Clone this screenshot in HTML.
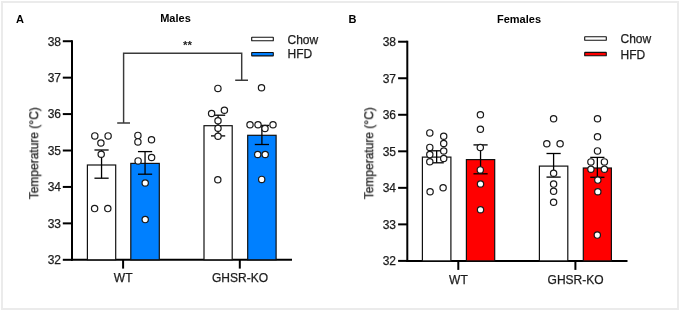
<!DOCTYPE html>
<html><head><meta charset="utf-8"><style>
html,body{margin:0;padding:0;background:#fff;}
body{width:680px;height:311px;overflow:hidden;position:relative;}
.frame{position:absolute;left:1px;top:1px;width:674px;height:305px;border:2px solid #ebebeb;}
svg{position:absolute;left:0;top:0;}
text{will-change:transform;}
.t{font-family:"Liberation Sans",sans-serif;font-size:12px;fill:#1c1c1c;stroke:#1c1c1c;stroke-width:0.25px;}
.b{font-family:"Liberation Sans",sans-serif;font-size:11px;font-weight:bold;fill:#000;}
.s{font-family:"Liberation Sans",sans-serif;font-size:11.5px;font-weight:bold;fill:#222;}
</style></head><body>
<div class="frame"></div>
<svg width="680" height="311" viewBox="0 0 680 311">
<line x1="72" y1="40.22" x2="72" y2="260.80" stroke="#000" stroke-width="2"/>
<line x1="62.8" y1="259.80" x2="72" y2="259.80" stroke="#000" stroke-width="2"/>
<text x="61" y="264.10" text-anchor="end" class="t">32</text>
<line x1="62.8" y1="223.37" x2="72" y2="223.37" stroke="#000" stroke-width="2"/>
<text x="61" y="227.67" text-anchor="end" class="t">33</text>
<line x1="62.8" y1="186.94" x2="72" y2="186.94" stroke="#000" stroke-width="2"/>
<text x="61" y="191.24" text-anchor="end" class="t">34</text>
<line x1="62.8" y1="150.51" x2="72" y2="150.51" stroke="#000" stroke-width="2"/>
<text x="61" y="154.81" text-anchor="end" class="t">35</text>
<line x1="62.8" y1="114.08" x2="72" y2="114.08" stroke="#000" stroke-width="2"/>
<text x="61" y="118.38" text-anchor="end" class="t">36</text>
<line x1="62.8" y1="77.65" x2="72" y2="77.65" stroke="#000" stroke-width="2"/>
<text x="61" y="81.95" text-anchor="end" class="t">37</text>
<line x1="62.8" y1="41.22" x2="72" y2="41.22" stroke="#000" stroke-width="2"/>
<text x="61" y="45.52" text-anchor="end" class="t">38</text>
<line x1="71" y1="259.8" x2="292" y2="259.8" stroke="#000" stroke-width="2"/>
<line x1="123.1" y1="259.8" x2="123.1" y2="268.6" stroke="#000" stroke-width="2"/>
<line x1="239.8" y1="259.8" x2="239.8" y2="268.6" stroke="#000" stroke-width="2"/>
<text x="123.19999999999999" y="282" text-anchor="middle" class="t">WT</text>
<text x="240.0" y="282" text-anchor="middle" class="t">GHSR-KO</text>
<text transform="translate(38.2,153.3) rotate(-90)" text-anchor="middle" class="t">Temperature (°C)</text>
<rect x="87.40" y="165.0" width="28.30" height="94.80" fill="#fff" stroke="#111" stroke-width="1.2"/>
<line x1="101.55" y1="150.0" x2="101.55" y2="178.2" stroke="#000" stroke-width="1.3"/>
<line x1="94.45" y1="150.0" x2="108.65" y2="150.0" stroke="#000" stroke-width="1.3"/>
<line x1="94.45" y1="178.2" x2="108.65" y2="178.2" stroke="#000" stroke-width="1.3"/>
<circle cx="94.8" cy="135.9" r="3.15" fill="#fff" stroke="#1a1a1a" stroke-width="1.2"/>
<circle cx="108.1" cy="135.9" r="3.15" fill="#fff" stroke="#1a1a1a" stroke-width="1.2"/>
<circle cx="100.9" cy="143.0" r="3.15" fill="#fff" stroke="#1a1a1a" stroke-width="1.2"/>
<circle cx="101.2" cy="154.2" r="3.15" fill="#fff" stroke="#1a1a1a" stroke-width="1.2"/>
<circle cx="94.6" cy="208.6" r="3.15" fill="#fff" stroke="#1a1a1a" stroke-width="1.2"/>
<circle cx="107.8" cy="208.6" r="3.15" fill="#fff" stroke="#1a1a1a" stroke-width="1.2"/>
<rect x="130.80" y="163.4" width="28.50" height="96.40" fill="#0080ff" stroke="#111" stroke-width="1.2"/>
<line x1="145.05" y1="151.6" x2="145.05" y2="174.2" stroke="#000" stroke-width="1.3"/>
<line x1="137.95" y1="151.6" x2="152.15" y2="151.6" stroke="#000" stroke-width="1.3"/>
<line x1="137.95" y1="174.2" x2="152.15" y2="174.2" stroke="#000" stroke-width="1.3"/>
<circle cx="137.9" cy="135.4" r="3.15" fill="#fff" stroke="#1a1a1a" stroke-width="1.2"/>
<circle cx="137.9" cy="141.9" r="3.15" fill="#fff" stroke="#1a1a1a" stroke-width="1.2"/>
<circle cx="151.5" cy="139.8" r="3.15" fill="#fff" stroke="#1a1a1a" stroke-width="1.2"/>
<circle cx="151.6" cy="157.5" r="3.15" fill="#fff" stroke="#1a1a1a" stroke-width="1.2"/>
<circle cx="138.1" cy="160.9" r="3.15" fill="#fff" stroke="#1a1a1a" stroke-width="1.2"/>
<circle cx="145.2" cy="183.0" r="3.15" fill="#fff" stroke="#1a1a1a" stroke-width="1.2"/>
<circle cx="145.2" cy="219.6" r="3.15" fill="#fff" stroke="#1a1a1a" stroke-width="1.2"/>
<rect x="204.00" y="125.7" width="28.20" height="134.10" fill="#fff" stroke="#111" stroke-width="1.2"/>
<line x1="218.10" y1="115.2" x2="218.10" y2="135.9" stroke="#000" stroke-width="1.3"/>
<line x1="211.00" y1="115.2" x2="225.20" y2="115.2" stroke="#000" stroke-width="1.3"/>
<line x1="211.00" y1="135.9" x2="225.20" y2="135.9" stroke="#000" stroke-width="1.3"/>
<circle cx="217.9" cy="88.4" r="3.15" fill="#fff" stroke="#1a1a1a" stroke-width="1.2"/>
<circle cx="211.6" cy="113.5" r="3.15" fill="#fff" stroke="#1a1a1a" stroke-width="1.2"/>
<circle cx="224.4" cy="110.3" r="3.15" fill="#fff" stroke="#1a1a1a" stroke-width="1.2"/>
<circle cx="218.0" cy="120.8" r="3.15" fill="#fff" stroke="#1a1a1a" stroke-width="1.2"/>
<circle cx="218.0" cy="128.3" r="3.15" fill="#fff" stroke="#1a1a1a" stroke-width="1.2"/>
<circle cx="218.0" cy="136.2" r="3.15" fill="#fff" stroke="#1a1a1a" stroke-width="1.2"/>
<circle cx="217.8" cy="179.8" r="3.15" fill="#fff" stroke="#1a1a1a" stroke-width="1.2"/>
<rect x="247.70" y="135.3" width="28.40" height="124.50" fill="#0080ff" stroke="#111" stroke-width="1.2"/>
<line x1="261.90" y1="125.4" x2="261.90" y2="144.5" stroke="#000" stroke-width="1.3"/>
<line x1="254.80" y1="125.4" x2="269.00" y2="125.4" stroke="#000" stroke-width="1.3"/>
<line x1="254.80" y1="144.5" x2="269.00" y2="144.5" stroke="#000" stroke-width="1.3"/>
<circle cx="261.5" cy="87.8" r="3.15" fill="#fff" stroke="#1a1a1a" stroke-width="1.2"/>
<circle cx="250.0" cy="124.7" r="3.15" fill="#fff" stroke="#1a1a1a" stroke-width="1.2"/>
<circle cx="258.0" cy="124.7" r="3.15" fill="#fff" stroke="#1a1a1a" stroke-width="1.2"/>
<circle cx="265.0" cy="128.5" r="3.15" fill="#fff" stroke="#1a1a1a" stroke-width="1.2"/>
<circle cx="273.0" cy="124.7" r="3.15" fill="#fff" stroke="#1a1a1a" stroke-width="1.2"/>
<circle cx="257.7" cy="154.5" r="3.15" fill="#fff" stroke="#1a1a1a" stroke-width="1.2"/>
<circle cx="265.2" cy="154.5" r="3.15" fill="#fff" stroke="#1a1a1a" stroke-width="1.2"/>
<circle cx="261.7" cy="179.4" r="3.15" fill="#fff" stroke="#1a1a1a" stroke-width="1.2"/>
<rect x="251.7" y="37.3" width="21.6" height="3.4" rx="0.3" fill="#fff" stroke="#111" stroke-width="1.1"/>
<rect x="251.7" y="52.5" width="21.6" height="3.4" rx="0.3" fill="#0080ff" stroke="#111" stroke-width="1.1"/>
<text x="287.5" y="43.7" class="t">Chow</text>
<text x="287.5" y="58.4" class="t">HFD</text>
<text x="160.2" y="22" class="b">Males</text>
<text x="16" y="23" class="b">A</text>
<line x1="407.3" y1="40.72" x2="407.3" y2="261.90" stroke="#000" stroke-width="2"/>
<line x1="398.1" y1="260.90" x2="407.3" y2="260.90" stroke="#000" stroke-width="2"/>
<text x="396" y="265.20" text-anchor="end" class="t">32</text>
<line x1="398.1" y1="224.37" x2="407.3" y2="224.37" stroke="#000" stroke-width="2"/>
<text x="396" y="228.67" text-anchor="end" class="t">33</text>
<line x1="398.1" y1="187.84" x2="407.3" y2="187.84" stroke="#000" stroke-width="2"/>
<text x="396" y="192.14" text-anchor="end" class="t">34</text>
<line x1="398.1" y1="151.31" x2="407.3" y2="151.31" stroke="#000" stroke-width="2"/>
<text x="396" y="155.61" text-anchor="end" class="t">35</text>
<line x1="398.1" y1="114.78" x2="407.3" y2="114.78" stroke="#000" stroke-width="2"/>
<text x="396" y="119.08" text-anchor="end" class="t">36</text>
<line x1="398.1" y1="78.25" x2="407.3" y2="78.25" stroke="#000" stroke-width="2"/>
<text x="396" y="82.55" text-anchor="end" class="t">37</text>
<line x1="398.1" y1="41.72" x2="407.3" y2="41.72" stroke="#000" stroke-width="2"/>
<text x="396" y="46.02" text-anchor="end" class="t">38</text>
<line x1="406.3" y1="260.9" x2="627.5" y2="260.9" stroke="#000" stroke-width="2"/>
<line x1="458.3" y1="260.9" x2="458.3" y2="269.9" stroke="#000" stroke-width="2"/>
<line x1="575.4" y1="260.9" x2="575.4" y2="269.9" stroke="#000" stroke-width="2"/>
<text x="458.40000000000003" y="283.6" text-anchor="middle" class="t">WT</text>
<text x="575.6" y="283.6" text-anchor="middle" class="t">GHSR-KO</text>
<text transform="translate(373.2,153.3) rotate(-90)" text-anchor="middle" class="t">Temperature (°C)</text>
<rect x="422.40" y="157.1" width="28.50" height="103.80" fill="#fff" stroke="#111" stroke-width="1.2"/>
<line x1="436.65" y1="150.8" x2="436.65" y2="162.8" stroke="#000" stroke-width="1.3"/>
<line x1="429.55" y1="150.8" x2="443.75" y2="150.8" stroke="#000" stroke-width="1.3"/>
<line x1="429.55" y1="162.8" x2="443.75" y2="162.8" stroke="#000" stroke-width="1.3"/>
<circle cx="429.8" cy="132.9" r="3.15" fill="#fff" stroke="#1a1a1a" stroke-width="1.2"/>
<circle cx="443.7" cy="136.3" r="3.15" fill="#fff" stroke="#1a1a1a" stroke-width="1.2"/>
<circle cx="443.7" cy="143.5" r="3.15" fill="#fff" stroke="#1a1a1a" stroke-width="1.2"/>
<circle cx="429.8" cy="147.4" r="3.15" fill="#fff" stroke="#1a1a1a" stroke-width="1.2"/>
<circle cx="443.7" cy="151.0" r="3.15" fill="#fff" stroke="#1a1a1a" stroke-width="1.2"/>
<circle cx="429.8" cy="154.6" r="3.15" fill="#fff" stroke="#1a1a1a" stroke-width="1.2"/>
<circle cx="443.7" cy="158.5" r="3.15" fill="#fff" stroke="#1a1a1a" stroke-width="1.2"/>
<circle cx="429.8" cy="161.8" r="3.15" fill="#fff" stroke="#1a1a1a" stroke-width="1.2"/>
<circle cx="430.1" cy="191.7" r="3.15" fill="#fff" stroke="#1a1a1a" stroke-width="1.2"/>
<circle cx="443.1" cy="187.8" r="3.15" fill="#fff" stroke="#1a1a1a" stroke-width="1.2"/>
<rect x="466.40" y="159.6" width="28.30" height="101.30" fill="#ff0000" stroke="#111" stroke-width="1.2"/>
<line x1="480.55" y1="144.9" x2="480.55" y2="173.8" stroke="#000" stroke-width="1.3"/>
<line x1="473.45" y1="144.9" x2="487.65" y2="144.9" stroke="#000" stroke-width="1.3"/>
<line x1="473.45" y1="173.8" x2="487.65" y2="173.8" stroke="#000" stroke-width="1.3"/>
<circle cx="480.4" cy="114.7" r="3.15" fill="#fff" stroke="#1a1a1a" stroke-width="1.2"/>
<circle cx="480.4" cy="129.2" r="3.15" fill="#fff" stroke="#1a1a1a" stroke-width="1.2"/>
<circle cx="480.3" cy="147.5" r="3.15" fill="#fff" stroke="#1a1a1a" stroke-width="1.2"/>
<circle cx="480.3" cy="169.9" r="3.15" fill="#fff" stroke="#1a1a1a" stroke-width="1.2"/>
<circle cx="480.5" cy="184.0" r="3.15" fill="#fff" stroke="#1a1a1a" stroke-width="1.2"/>
<circle cx="480.5" cy="209.7" r="3.15" fill="#fff" stroke="#1a1a1a" stroke-width="1.2"/>
<rect x="539.40" y="166.1" width="28.40" height="94.80" fill="#fff" stroke="#111" stroke-width="1.2"/>
<line x1="553.60" y1="153.5" x2="553.60" y2="177.1" stroke="#000" stroke-width="1.3"/>
<line x1="546.50" y1="153.5" x2="560.70" y2="153.5" stroke="#000" stroke-width="1.3"/>
<line x1="546.50" y1="177.1" x2="560.70" y2="177.1" stroke="#000" stroke-width="1.3"/>
<circle cx="553.6" cy="118.7" r="3.15" fill="#fff" stroke="#1a1a1a" stroke-width="1.2"/>
<circle cx="546.8" cy="143.7" r="3.15" fill="#fff" stroke="#1a1a1a" stroke-width="1.2"/>
<circle cx="560.1" cy="143.7" r="3.15" fill="#fff" stroke="#1a1a1a" stroke-width="1.2"/>
<circle cx="553.6" cy="173.2" r="3.15" fill="#fff" stroke="#1a1a1a" stroke-width="1.2"/>
<circle cx="553.6" cy="184.1" r="3.15" fill="#fff" stroke="#1a1a1a" stroke-width="1.2"/>
<circle cx="553.6" cy="191.2" r="3.15" fill="#fff" stroke="#1a1a1a" stroke-width="1.2"/>
<circle cx="553.6" cy="202.2" r="3.15" fill="#fff" stroke="#1a1a1a" stroke-width="1.2"/>
<rect x="583.30" y="168.0" width="28.10" height="92.90" fill="#ff0000" stroke="#111" stroke-width="1.2"/>
<line x1="597.35" y1="157.4" x2="597.35" y2="177.3" stroke="#000" stroke-width="1.3"/>
<line x1="590.25" y1="157.4" x2="604.45" y2="157.4" stroke="#000" stroke-width="1.3"/>
<line x1="590.25" y1="177.3" x2="604.45" y2="177.3" stroke="#000" stroke-width="1.3"/>
<circle cx="597.5" cy="118.7" r="3.15" fill="#fff" stroke="#1a1a1a" stroke-width="1.2"/>
<circle cx="597.5" cy="136.8" r="3.15" fill="#fff" stroke="#1a1a1a" stroke-width="1.2"/>
<circle cx="597.5" cy="150.9" r="3.15" fill="#fff" stroke="#1a1a1a" stroke-width="1.2"/>
<circle cx="590.9" cy="161.9" r="3.15" fill="#fff" stroke="#1a1a1a" stroke-width="1.2"/>
<circle cx="604.4" cy="161.9" r="3.15" fill="#fff" stroke="#1a1a1a" stroke-width="1.2"/>
<circle cx="590.9" cy="169.3" r="3.15" fill="#fff" stroke="#1a1a1a" stroke-width="1.2"/>
<circle cx="604.4" cy="169.3" r="3.15" fill="#fff" stroke="#1a1a1a" stroke-width="1.2"/>
<circle cx="597.8" cy="180.1" r="3.15" fill="#fff" stroke="#1a1a1a" stroke-width="1.2"/>
<circle cx="597.8" cy="191.7" r="3.15" fill="#fff" stroke="#1a1a1a" stroke-width="1.2"/>
<circle cx="597.3" cy="235.1" r="3.15" fill="#fff" stroke="#1a1a1a" stroke-width="1.2"/>
<rect x="584.7" y="36.8" width="21.6" height="3.4" rx="0.3" fill="#fff" stroke="#111" stroke-width="1.1"/>
<rect x="584.7" y="52.4" width="21.6" height="3.4" rx="0.3" fill="#ff0000" stroke="#111" stroke-width="1.1"/>
<text x="620.5" y="43.3" class="t">Chow</text>
<text x="620.5" y="58.6" class="t">HFD</text>
<text x="497.0" y="22.6" class="b">Females</text>
<text x="348.5" y="22.8" class="b">B</text>
<path d="M117.2 122.9 H130 M123.6 122.9 V53.2 H241.7 V80.3 M235.2 80.3 H248" fill="none" stroke="#3a3a3a" stroke-width="1.45"/>
<text x="187.5" y="48.6" text-anchor="middle" class="s">**</text>
</svg>
</body></html>
